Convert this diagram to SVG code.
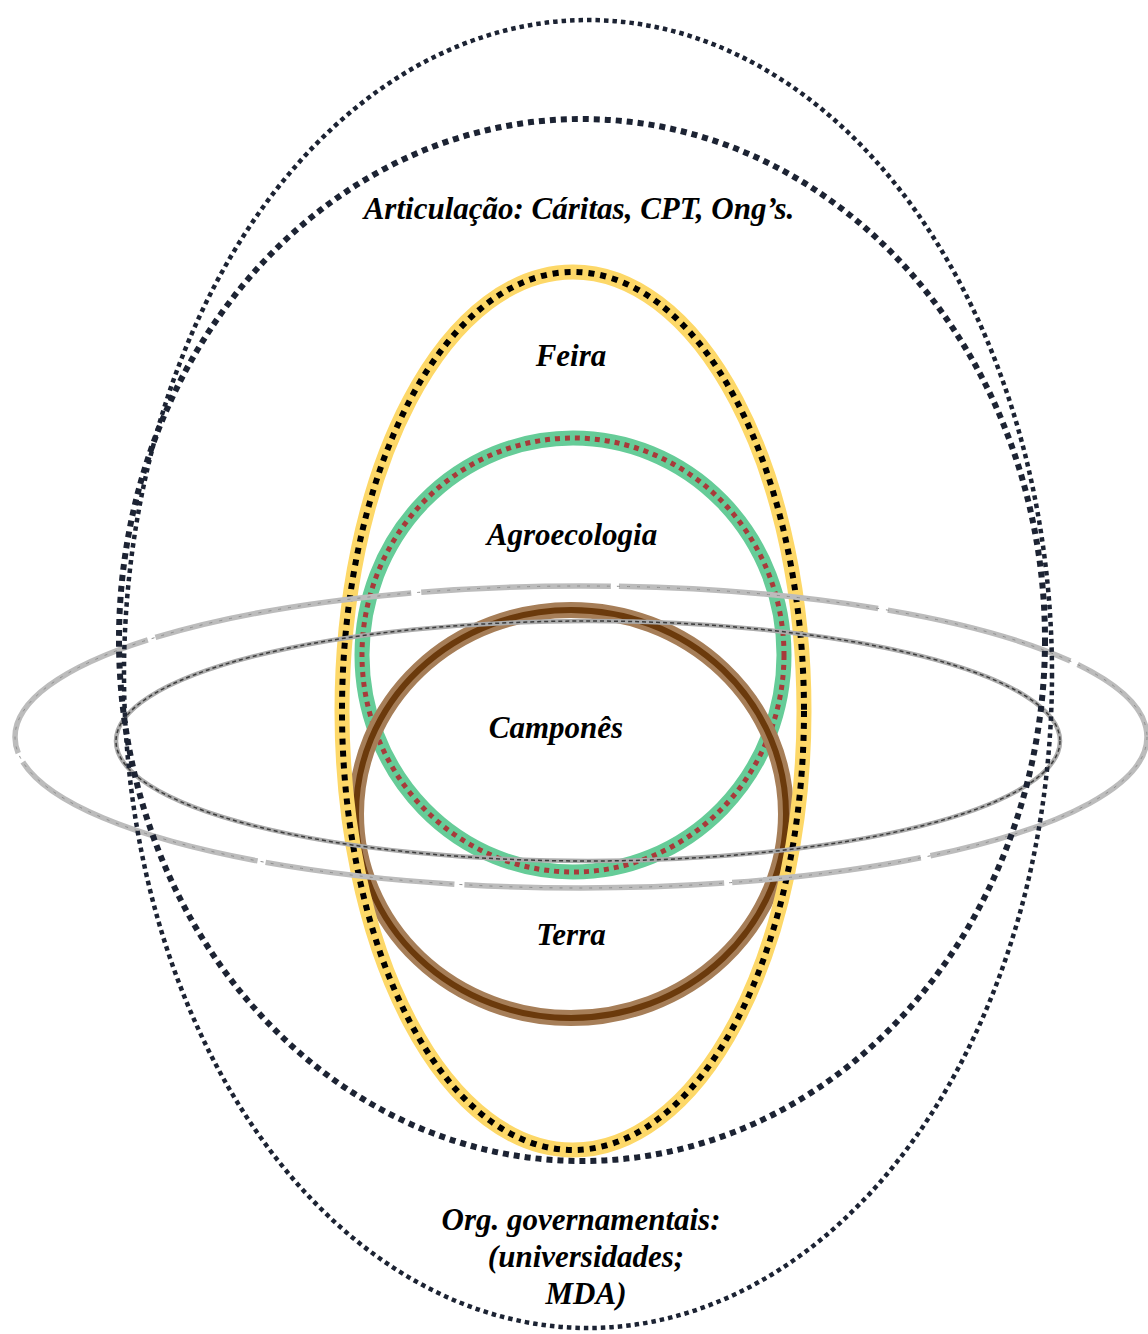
<svg xmlns="http://www.w3.org/2000/svg" width="1148" height="1334" viewBox="0 0 1148 1334">
<style>
.lbl{font-family:"Liberation Serif","Times New Roman",serif;font-weight:bold;font-style:italic;font-size:31px;fill:#000;text-anchor:middle}
.none{fill:none}
</style>
<rect width="1148" height="1334" fill="#fff"/>
<g id="agroecologia">
  <ellipse class="none" cx="573" cy="655" rx="211" ry="217" stroke="#66cc98" stroke-width="15"/>
  <ellipse class="none" cx="573" cy="655" rx="211" ry="217" stroke="#a83a3a" stroke-width="5" stroke-dasharray="5 5"/>
  <text class="lbl" x="572" y="545">Agroecologia</text>
</g>
<g id="terra">
  <ellipse class="none" cx="571" cy="814" rx="215" ry="204" stroke="#a67e58" stroke-width="16"/>
  <ellipse class="none" cx="571" cy="814" rx="215" ry="204" stroke="#6b3a0c" stroke-width="6"/>
  <text class="lbl" x="571" y="945">Terra</text>
</g>
<g id="feira">
  <ellipse class="none" cx="573" cy="711" rx="231" ry="439" stroke="#fdd868" stroke-width="15"/>
  <ellipse class="none" cx="573" cy="711" rx="231" ry="439" stroke="#000" stroke-width="6" stroke-dasharray="6 6"/>
  <text class="lbl" x="571" y="366">Feira</text>
</g>
<g id="camponês">
  <ellipse class="none" cx="581" cy="737" rx="566" ry="151" stroke="#bcbcbc" stroke-width="5.5" stroke-dasharray="260 10 190 8"/>
  <ellipse class="none" cx="581" cy="737" rx="566" ry="151" stroke="#8e8e8e" stroke-width="1" stroke-dasharray="3 7"/>
  <ellipse class="none" cx="588" cy="741" rx="472" ry="120" stroke="#ababab" stroke-width="4.5"/>
  <ellipse class="none" cx="588" cy="741" rx="472" ry="120" stroke="#3c3c3c" stroke-width="1.5" stroke-dasharray="4 3"/>
  <text class="lbl" x="556" y="738">Camponês</text>
</g>
<g id="articulacao">
  <ellipse class="none" cx="582" cy="640" rx="463" ry="521" stroke="#1c2333" stroke-width="6" stroke-dasharray="6 5"/>
  <text class="lbl" x="579" y="219">Articulação: Cáritas, CPT, Ong’s.</text>
</g>
<g id="org-governamentais">
  <ellipse class="none" cx="588" cy="674" rx="464" ry="654" stroke="#1c2333" stroke-width="4.5" stroke-dasharray="4.5 4"/>
  <text class="lbl" x="581" y="1230">Org. governamentais:</text>
  <text class="lbl" x="586" y="1267">(universidades;</text>
  <text class="lbl" x="586" y="1304">MDA)</text>
</g>
<g id="connectors"/>
</svg>
